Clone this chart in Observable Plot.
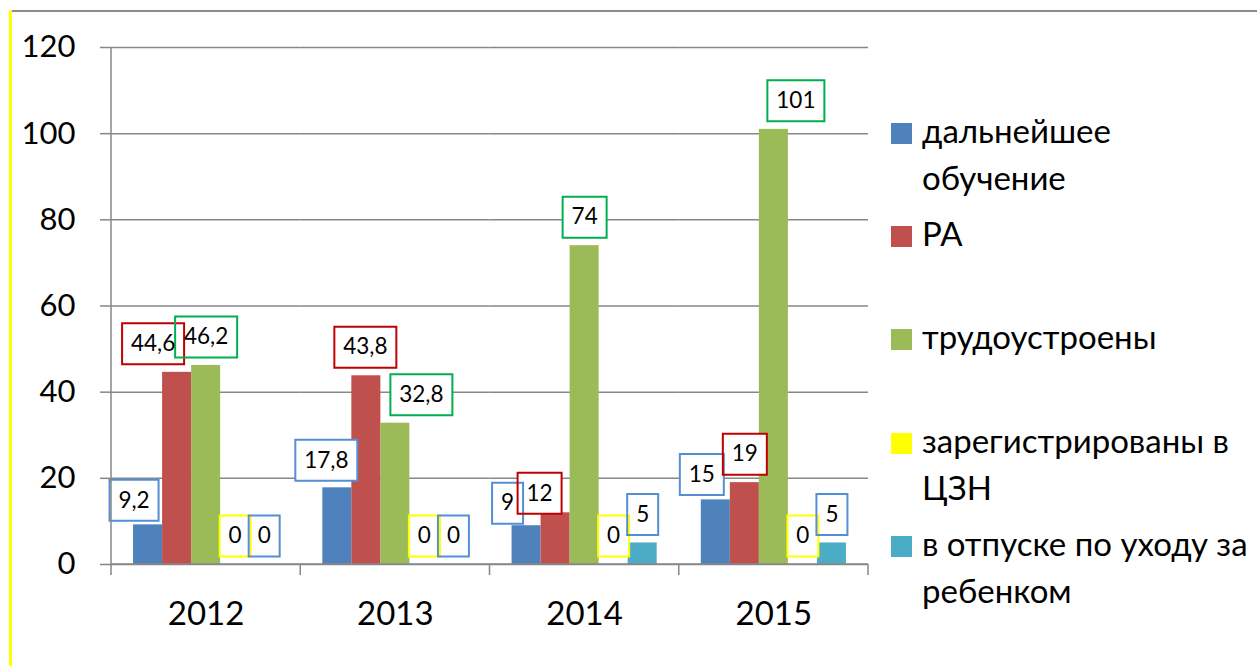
<!DOCTYPE html>
<html>
<head>
<meta charset="utf-8">
<script src="https://cdn.jsdelivr.net/npm/d3@7"></script>
<script src="https://cdn.jsdelivr.net/npm/@observablehq/plot@0.6"></script>
<style>
  html, body { margin: 0; padding: 0; background: #fff; }
  #frame { position: relative; width: 1257px; height: 666px; overflow: hidden; font-family: Lato, 'Open Sans', sans-serif; }
  #topline { position: absolute; left: 11px; top: 10px; width: 1246px; height: 2px; background: #8c8c8c; }
  #leftline { position: absolute; left: 9px; top: 10px; width: 3px; height: 656px; background: #ffff00; }
  #chart { position: absolute; left: 0; top: 0; }
  .sw { position: absolute; width: 21px; height: 21px; }
  .lt { position: absolute; font-size: 33px; line-height: 47px; white-space: nowrap; color: #000; }
</style>
</head>
<body>
<div id="frame">
  <div id="topline"></div>
  <div id="leftline"></div>
  <div id="chart"></div>
  <div id="legend"></div>
</div>
<script>
// ---- data ----
const years = ["2012", "2013", "2014", "2015"];
const series = ["дальнейшее обучение", "РА", "трудоустроены", "зарегистрированы в ЦЗН", "в отпуске по уходу за ребенком"];
const vDalneishee = [9.2, 17.8, 9, 15];
const vRA = [44.6, 43.8, 12, 19];
const vTrud = [46.2, 32.8, 74, 101];
const vZareg = [0, 0, 0, 0];
const vOtpusk = [0, 0, 5, 5];
const yTicks = [0, 20, 40, 60, 80, 100, 120];
const legendLines = [["дальнейшее", "обучение"], ["РА"], ["трудоустроены"], ["зарегистрированы в", "ЦЗН"], ["в отпуске по уходу за", "ребенком"]];

// ---- styles / layout config ----
const barColors = ["#4f81bd", "#c0504d", "#9bbb59", "#ffff00", "#4bacc6"];
const boxColors = ["#558ed5", "#c00000", "#00b050", "#ffff00", "#558ed5"];
// manual label nudges (pixels), per year x series, like the hand-placed labels in the original
const labelNudgeX = [[-14, -24, 0, 0, 0], [-11, -1, 26, 0, 0], [-19, -16, 0, 0, 0], [-14, 0, 22, 0, 0]];
const labelNudgeY = [[4, 0, 0, 0, 0], [1, 0, 0, 0, 0], [6, 9, 0, 0, 0], [3, 0, 0, 0, 0]];
const legendSwatchTop = [123, 226, 329, 433, 536];
const FONT = "Lato, 'Open Sans', sans-serif";
const LABEL_FS = 22.5;

const valueTable = [vDalneishee, vRA, vTrud, vZareg, vOtpusk];
const rows = years.flatMap((year, yi) => series.map((s, si) => ({
  year, series: s, si, yi,
  value: valueTable[si][yi],
  label: String(valueTable[si][yi]).replace(".", ",")
})));

// measure text widths for label boxes
const ctx = document.createElement("canvas").getContext("2d");
ctx.font = LABEL_FS + "px " + FONT;
const BOX_H = 41, GAP = 8;

function boxSymbol(w, nx, ny) {
  const x0 = nx - w / 2, x1 = nx + w / 2, y1 = ny - GAP, y0 = y1 - BOX_H;
  return { draw(c) { c.moveTo(x0, y0); c.lineTo(x1, y0); c.lineTo(x1, y1); c.lineTo(x0, y1); c.closePath(); } };
}

const fills = [], strokes = [], texts = [];
rows.forEach(d => {
  const nx = labelNudgeX[d.yi][d.si], ny = labelNudgeY[d.yi][d.si];
  const w = Math.round(ctx.measureText(d.label).width + 18);
  const sym = boxSymbol(w, nx, ny);
  fills.push(Plot.dot([d], { fx: "year", x: "series", y: "value", r: 3, symbol: sym, fill: "white", stroke: "none" }));
  strokes.push(Plot.dot([d], { fx: "year", x: "series", y: "value", r: 3, symbol: sym, fill: "none", stroke: boxColors[d.si], strokeWidth: 2 }));
  texts.push(Plot.text([d], { fx: "year", x: "series", y: "value", text: "label", dx: nx, dy: ny - GAP - BOX_H / 2, fontSize: LABEL_FS, fill: "#000", lineAnchor: "middle" }));
});

const plot = Plot.plot({
  width: 870, height: 666,
  marginLeft: 111, marginRight: 2, marginTop: 47, marginBottom: 102,
  fx: { domain: years, paddingInner: 0, paddingOuter: 0, round: false, label: null },
  x: { domain: series, paddingInner: 0, paddingOuter: 0.76, round: false, axis: null },
  y: { domain: [0, 120] },
  color: { domain: series, range: barColors },
  style: { fontFamily: FONT, background: "transparent", color: "#000", overflow: "visible" },
  marks: [
    Plot.gridY(yTicks, { stroke: "#878787", strokeOpacity: 1, strokeWidth: 1.5 }),
    Plot.axisY(yTicks, { tickSize: 11, tickPadding: 25, fontSize: 31, stroke: "#878787", strokeWidth: 1.5, fill: "#000", label: null }),
    Plot.axisFx({ anchor: "bottom", tickSize: 0, tickPadding: 37, fontSize: 33, fill: "#000", label: null }),
    Plot.barY(rows, { fx: "year", x: "series", y: "value", fill: "series" }),
    ...fills, ...strokes, ...texts
  ]
});
document.getElementById("chart").appendChild(plot);

// axis line and category boundary ticks drawn from Plot's own scales
const fx = plot.scale("fx"), ys = plot.scale("y");
const svg = d3.select(plot.tagName.toLowerCase() === "svg" ? plot : plot.querySelector("svg"));
const y0 = ys.apply(0), yTop = ys.apply(120);
const xs = years.map(y => fx.apply(y));
xs.push(fx.apply(years[years.length - 1]) + fx.bandwidth);
const g = svg.append("g").attr("stroke", "#878787").attr("stroke-width", 1.5);
g.append("line").attr("x1", xs[0]).attr("x2", xs[0]).attr("y1", yTop).attr("y2", y0 + 11);
xs.slice(1).forEach(x => g.append("line").attr("x1", x).attr("x2", x).attr("y1", y0).attr("y2", y0 + 11));
g.append("line").attr("x1", xs[0]).attr("x2", xs[xs.length - 1]).attr("y1", y0).attr("y2", y0);

// legend
const legend = document.getElementById("legend");
series.forEach((s, i) => {
  const sw = document.createElement("div");
  sw.className = "sw";
  sw.style.left = "891px"; sw.style.top = legendSwatchTop[i] + "px"; sw.style.background = barColors[i];
  legend.appendChild(sw);
  const t = document.createElement("div");
  t.className = "lt";
  t.style.left = "922px"; t.style.top = (legendSwatchTop[i] + 21 - 37) + "px";
  t.innerHTML = legendLines[i].join("<br>");
  legend.appendChild(t);
});
</script>
</body>
</html>
